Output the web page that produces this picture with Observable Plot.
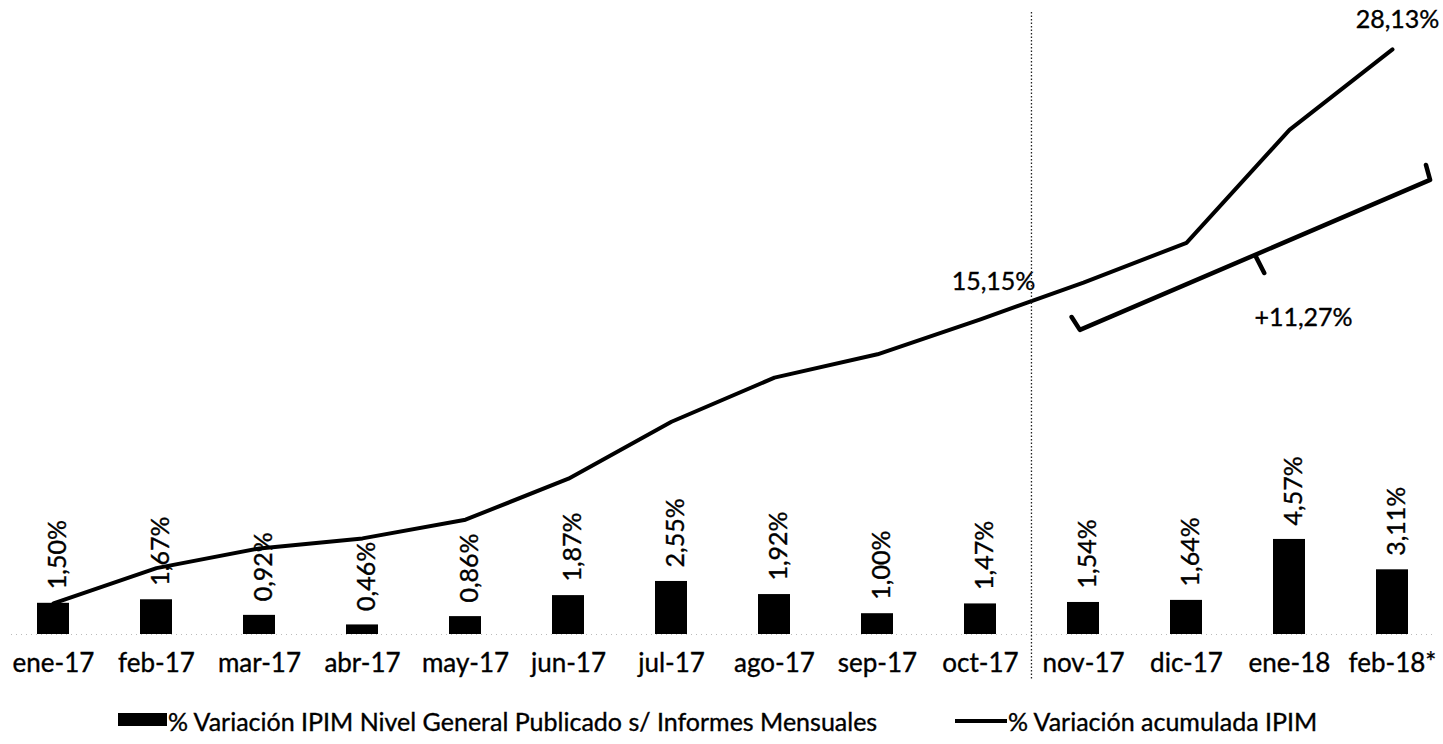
<!DOCTYPE html>
<html>
<head>
<meta charset="utf-8">
<script src="https://cdn.jsdelivr.net/npm/d3@7"></script>
<script src="https://cdn.jsdelivr.net/npm/@observablehq/plot@0.6"></script>
<style>
  html, body { margin: 0; padding: 0; background: #fff; }
  #wrap { position: relative; width: 1443px; height: 744px; font-family: Lato, sans-serif; }
  #legend { position: absolute; left: 0; top: 690px; width: 1443px; height: 54px; }
  .lg-text { position: absolute; top: 17px; font-size: 25px; line-height: 28px; color: #000; white-space: nowrap; -webkit-text-stroke: 0.35px #000; }
  .lg-box { position: absolute; background: #000; }
  #chart svg text { stroke: #000; stroke-width: 0.35px; }
</style>
</head>
<body>
<div id="wrap">
  <div id="chart"></div>
  <div id="legend"></div>
</div>
<script>
// ---- data ----
const months = ["ene-17","feb-17","mar-17","abr-17","may-17","jun-17","jul-17","ago-17","sep-17","oct-17","nov-17","dic-17","ene-18","feb-18*"];
const monthlyVar = [1.50,1.67,0.92,0.46,0.86,1.87,2.55,1.92,1.00,1.47,1.54,1.64,4.57,3.11];
const cumulativeVar = [1.50,3.19,4.14,4.62,5.52,7.49,10.23,12.35,13.47,15.15,16.92,18.83,24.26,28.13];
const seriesNames = ["% Variación IPIM Nivel General Publicado s/ Informes Mensuales", "% Variación acumulada IPIM"];
// annotation labels (month anchor, value anchor, text)
const calloutMonths = ["oct-17","feb-18*","ene-18"];
const calloutValues = [15.15, 28.13, 15.2];
const calloutTexts = ["15,15%","28,13%","+11,27%"];
// bracket annotation: month anchor, offset in band steps, value
const bracketMonths = ["nov-17","nov-17","feb-18*","feb-18*"];
const bracketOffsets = [-0.11,-0.03,0.37,0.33];
const bracketValues = [15.24,14.62,21.83,22.55];
const bracketTickMonths = ["ene-18","ene-18"];
const bracketTickOffsets = [-0.32,-0.24];
const bracketTickValues = [18.13,17.36];
const dividerAfter = "oct-17";

const fmt = d3.formatLocale({decimal: ",", thousands: ".", grouping: [3], currency: ["", ""]}).format(".2f");

const rows = months.map((m, i) => ({month: m, monthly: monthlyVar[i], cumulative: cumulativeVar[i]}));
const callouts = calloutMonths.map((m, i) => ({month: m, value: calloutValues[i], text: calloutTexts[i]}));
const bracket = bracketMonths.map((m, i) => ({month: m, off: bracketOffsets[i], value: bracketValues[i]}));
const bracketTick = bracketTickMonths.map((m, i) => ({month: m, off: bracketTickOffsets[i], value: bracketTickValues[i]}));

const PADI = 0.69;

function annotations(index, scales, values, dims) {
  const x = scales.x, y = scales.y;
  const step = x(months[1]) - x(months[0]);
  const bw = step * (1 - PADI);
  const cx = (m, off) => x(m) + bw / 2 + off * step;
  const g = d3.create("svg:g");
  const line = d3.line();
  g.append("path")
    .attr("d", line(bracket.map(d => [cx(d.month, d.off), y(d.value)])))
    .attr("fill", "none").attr("stroke", "#000").attr("stroke-width", 4.5)
    .attr("stroke-linejoin", "round").attr("stroke-linecap", "round");
  g.append("path")
    .attr("d", line(bracketTick.map(d => [cx(d.month, d.off), y(d.value)])))
    .attr("fill", "none").attr("stroke", "#000").attr("stroke-width", 4.5)
    .attr("stroke-linecap", "round");
  const i = months.indexOf(dividerAfter);
  const xd = (x(months[i]) + bw + x(months[i + 1])) / 2;
  g.append("line")
    .attr("x1", xd).attr("x2", xd)
    .attr("y1", 12).attr("y2", dims.height - 10)
    .attr("stroke", "#222").attr("stroke-width", 1.3)
    .attr("stroke-dasharray", "1.5,2");
  return g.node();
}

const chart = Plot.plot({
  width: 1443,
  height: 690,
  marginTop: 10,
  marginBottom: 56,
  marginLeft: 11,
  marginRight: 10,
  style: {fontFamily: "Lato, sans-serif", fontSize: "25px", color: "#000", background: "#fff"},
  x: {domain: months, paddingInner: PADI, paddingOuter: 0.2, label: null},
  y: {domain: [0, 30], axis: null},
  marks: [
    Plot.ruleY([0], {stroke: "#bbb", strokeWidth: 1, strokeDasharray: "1,4"}),
    Plot.barY(rows, {x: "month", y: "monthly", fill: "#000"}),
    Plot.text(rows, {x: "month", y: "monthly", text: d => fmt(d.monthly) + "%", rotate: -90, textAnchor: "start", dy: -14, dx: 4, fontSize: 25, fill: "#000"}),
    Plot.line(rows, {x: "month", y: "cumulative", stroke: "#000", strokeWidth: 4, strokeLinecap: "round", strokeLinejoin: "round"}),
    Plot.text(callouts, {x: "month", y: "value", text: "text", fontSize: 25, fill: "#000"}),
    annotations,
    Plot.axisX({tickSize: 0, tickPadding: 19, fontSize: 26, label: null})
  ]
});
document.getElementById("chart").appendChild(chart);

// position the callout labels by offsets (screen space)
{
  const offs = [[13, -45], [5, -37], [14, -8]];
  const texts = chart.querySelectorAll("g[aria-label='text']");
  const calloutG = texts[1];
  calloutG.querySelectorAll("text").forEach((t, i) => {
    t.setAttribute("dx", offs[i][0]);
    t.setAttribute("dy", (offs[i][1] + 8) + "");
  });
}

// legend
const legend = document.getElementById("legend");
const box = document.createElement("div");
box.className = "lg-box";
Object.assign(box.style, {left: "118px", top: "23px", width: "49px", height: "13px"});
legend.appendChild(box);
const t1 = document.createElement("div");
t1.className = "lg-text"; t1.style.left = "168px"; t1.textContent = seriesNames[0];
legend.appendChild(t1);
const ln = document.createElement("div");
ln.className = "lg-box";
Object.assign(ln.style, {left: "955px", top: "29px", width: "52px", height: "4px"});
legend.appendChild(ln);
const t2 = document.createElement("div");
t2.className = "lg-text"; t2.style.left = "1008px"; t2.textContent = seriesNames[1];
legend.appendChild(t2);
</script>
</body>
</html>
